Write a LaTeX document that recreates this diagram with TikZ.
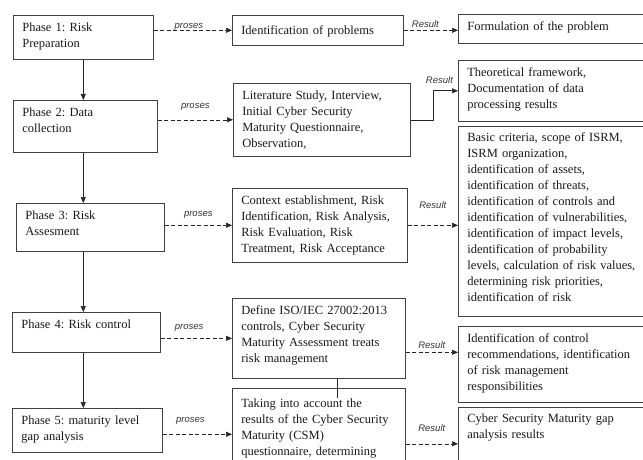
\documentclass[tikz,border=0pt]{standalone}
\usepackage{fontspec}
\setmainfont{Liberation Serif}
\newfontfamily\lblfont{Liberation Sans}
\usetikzlibrary{positioning,arrows.meta}
\newcommand{\boxfont}{\fontsize{12.5pt}{16pt}\selectfont}
\frenchspacing

\begin{document}
\begin{tikzpicture}[x=1pt,y=-1pt]
            \tikzstyle{box}=[draw=black!75,line width=0.6pt,anchor=north west,align=left,inner xsep=9pt,inner ysep=0pt,text height=16pt,font=\boxfont,text=black!90]
            \tikzstyle{lbl}=[font=\lblfont\itshape\fontsize{9.5pt}{11pt}\selectfont,text=black!80,inner sep=1pt]
            \tikzstyle{arr}=[-{Triangle[length=6pt,width=5pt]},line width=0.6pt,black!85]
            \tikzstyle{dasharr}=[arr,dash pattern=on 4pt off 2.5pt]
            \useasboundingbox (0,0) rectangle (643,460);
            \clip (0,0) rectangle (643,460);

            \node[box,text width=122pt,text depth=28pt] (p1) at (13,15) {Phase 1: Risk\\Preparation};
            \node[box,text width=126pt,text depth=36pt] (p2) at (13,100) {Phase 2: Data\\collection};
            \node[box,text width=130pt,text depth=32pt] (p3) at (16,203) {Phase 3: Risk\\Assesment};
            \node[box,text width=130pt,text depth=24pt] (p4) at (12,312) {Phase 4: Risk control};
            \node[box,text width=132pt,text depth=28pt] (p5) at (12,408) {Phase 5: maturity level\\gap analysis};

            \node[box,text width=153pt,text height=19pt,text depth=11pt] (m1) at (232,15) {Identification of problems};
            \node[box,text width=159pt,text depth=57pt] (m2) at (233,83) {Literature Study, Interview,\\Initial Cyber Security\\Maturity Questionnaire,\\Observation,};
            \node[box,text width=157pt,text depth=58pt] (m3) at (232,188) {Context establishment, Risk\\Identification, Risk Analysis,\\Risk Evaluation, Risk\\Treatment, Risk Acceptance};
            \node[box,text width=155pt,text depth=64pt] (m4) at (232,298) {Define ISO/IEC 27002:2013\\controls, Cyber Security\\Maturity Assessment treats\\risk management};
            \node[box,text width=155pt,text height=19pt,text depth=73pt] (m5) at (232,388) {Taking into account the\\results of the Cyber Security\\Maturity (CSM)\\questionnaire, determining};

            \node[box,text width=200pt,text depth=13pt] (r1) at (458,14) {Formulation of the problem};
            \node[box,text width=200pt,text depth=45pt] (r2) at (458,60) {Theoretical framework,\\Documentation of data\\processing results};
            \node[box,text width=200pt,text height=15pt,text depth=175pt] (r3) at (458,126) {Basic criteria, scope of ISRM,\\ISRM organization,\\identification of assets,\\identification of threats,\\identification of controls and\\identification of vulnerabilities,\\identification of impact levels,\\identification of probability\\levels, calculation of risk values,\\determining risk priorities,\\identification of risk};
            \node[box,text width=200pt,text depth=60pt] (r4) at (458,326) {Identification of control\\recommendations, identification\\of risk management\\responsibilities};
            \node[box,text width=200pt,text height=15pt,text depth=58pt] (r5) at (458,407) {Cyber Security Maturity gap\\analysis results};

            \draw[arr] (p1.south) -- (p1.south |- p2.north);
            \draw[arr] (p2.south -| p1.south) -- (p1.south |- p3.north);
            \draw[arr] (p3.south -| p1.south) -- (p1.south |- p4.north);
            \draw[arr] (p4.south -| p1.south) -- (p1.south |- p5.north);

            \draw[dasharr] (p1.east |- m1.west) -- node[lbl,above=-1pt,pos=0.45] (l1) {proses} (m1.west);
            \draw[dasharr] (p2.east |- m2.west) -- node[lbl,above=8pt] (l2) {proses} (m2.west);
            \draw[dasharr] (p3.east |- m3.west) -- node[lbl,above=6pt] (l3) {proses} (m3.west);
            \draw[dasharr] (p4.east |- m4.west) -- node[lbl,above=6pt,pos=0.4] (l4) {proses} (m4.west);
            \draw[dasharr] (p5.east |- m5.west) -- node[lbl,above=9pt,pos=0.4] (l5) {proses} (m5.west);

            \draw[dasharr] (m1.east) -- node[lbl,above=1pt,pos=0.4] (k1) {Result} (m1.east -| r1.west);
            \draw[arr] (m2.east) -- ++(23,0) |- node[lbl,above=6pt,pos=0.62] (k2) {Result} (r2.west);
            \draw[dasharr] (m3.east) -- node[lbl,above=15pt] (k3) {Result} (m3.east -| r3.west);
            \draw[dasharr] ([yshift=-14pt]m4.east) -- node[lbl,above=2pt] (k4) {Result} ([yshift=-14pt]m4.east -| r4.west);
            \draw[dasharr] (r5.west -| m5.east) -- node[lbl,above=11pt] (k5) {Result} (r5.west);

            \draw[line width=0.6pt,black!85] ([xshift=18pt]m4.south) -- ++(0,19);
        \end{tikzpicture}
\end{document}
